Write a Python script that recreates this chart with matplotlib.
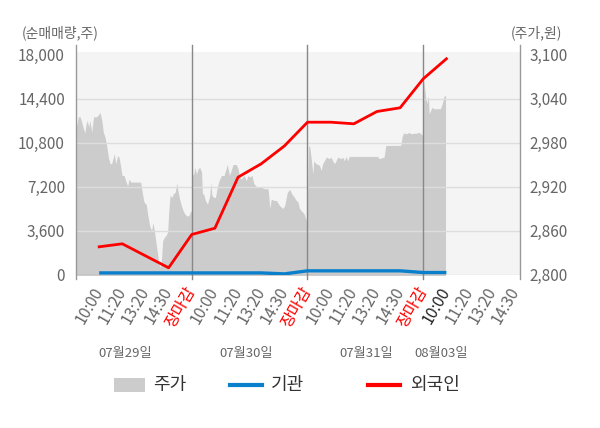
import matplotlib
matplotlib.use('Agg')
import matplotlib.pyplot as plt
from matplotlib.lines import Line2D
from matplotlib.patches import Rectangle

plt.rcParams['font.family'] = ['Noto Sans CJK KR', 'DejaVu Sans']

# minutes counted from 09:00 of the first day, 390 minutes per session
price_min = [0, 8, 14, 19, 25, 30, 34, 38, 43, 47, 53, 59, 70, 78, 81, 87, 92, 98,
             104, 109, 115, 120, 126, 129, 134, 140, 145, 151, 155, 162, 169, 174,
             179, 185, 195, 218, 224, 229, 237, 241, 249, 255, 259, 264, 270, 275,
             279, 283, 287, 292, 298, 303, 309, 312, 317, 323, 328, 334, 340, 343,
             349, 355, 361, 366, 373, 380, 385, 389,
             391, 397, 400, 406, 411, 417, 423, 426, 430, 436, 443, 451, 454, 458,
             464, 470, 476, 482, 490, 499, 504, 510, 517, 523, 529, 540, 546, 551,
             557, 566, 574, 579, 585, 593, 599, 608, 624, 635, 647, 650, 653, 658,
             667, 675, 686, 697, 703, 712, 720, 727, 736, 742, 748, 753, 759, 768,
             776, 779,
             783, 787, 792, 798, 801, 809, 820, 826, 831, 837, 843, 854, 859, 865,
             871, 876, 882, 893, 899, 904, 910, 915, 921, 926, 971, 1016, 1021, 1038,
             1044, 1094, 1100, 1105, 1116, 1122, 1128, 1150, 1156, 1161, 1167,
             1172, 1178, 1183, 1187, 1190, 1195, 1200, 1206, 1228, 1234, 1239, 1245]
price = [2999, 3015, 3015, 3008, 2999, 2993, 3005, 3010, 3001, 3010, 2994, 3015,
         3015, 3019, 3021, 3010, 2994, 2987, 2974, 2960, 2951, 2951, 2960, 2965,
         2951, 2962, 2960, 2946, 2935, 2935, 2926, 2921, 2930, 2926, 2926, 2926,
         2910, 2899, 2895, 2883, 2865, 2860, 2871, 2860, 2842, 2828, 2815, 2810,
         2815, 2846, 2851, 2853, 2858, 2883, 2908, 2905, 2910, 2912, 2925, 2915,
         2903, 2894, 2887, 2883, 2880, 2880, 2885, 2887,
         2935, 2937, 2946, 2937, 2944, 2946, 2940, 2910, 2910, 2901, 2896, 2908,
         2926, 2908, 2905, 2905, 2919, 2928, 2935, 2935, 2942, 2950, 2935, 2942,
         2950, 2950, 2944, 2933, 2930, 2935, 2928, 2935, 2933, 2935, 2924, 2920,
         2919, 2917, 2917, 2905, 2890, 2903, 2901, 2901, 2894, 2890, 2894, 2912,
         2916, 2910, 2905, 2901, 2899, 2890, 2887, 2883, 2874, 2872,
         2974, 2976, 2960, 2937, 2955, 2951, 2949, 2942, 2951, 2955, 2960, 2958,
         2960, 2955, 2951, 2955, 2960, 2958, 2960, 2955, 2961, 2955, 2961, 2961,
         2961, 2961, 2958, 2960, 2976, 2976, 2990, 2993, 2992, 2994, 2992, 2993,
         2994, 2992, 2990,
         3065, 3042, 3033, 3044, 3019, 3024, 3028, 3026, 3026, 3033, 3042, 3045]

flow_min = [78, 156, 312, 390, 468, 546, 624, 702, 780, 858, 936, 1014, 1092, 1170, 1248]
foreign = [2266, 2512, 548, 3273, 3788, 7961, 9057, 10514, 12461, 12461, 12330,
           13336, 13639, 16012, 17648]
inst = [130, 130, 130, 130, 130, 130, 130, 50, 300, 300, 300, 300, 300, 160, 160]

tick_min = [78 * k for k in range(1, 20)]
tick_labels = ['10:00', '11:20', '13:20', '14:30', '장마감'] * 3 + ['10:00', '11:20', '13:20', '14:30']
day_breaks = [390, 780, 1170]
day_names = ['07월29일', '07월30일', '07월31일', '08월03일']
day_label_min = [167, 572, 977, 1230]

left_ticks = [0, 3600, 7200, 10800, 14400, 18000]
right_ticks = [2800, 2860, 2920, 2980, 3040, 3100]

fig = plt.figure(figsize=(6, 4.28), dpi=100)
H = 428.0
ax_p = fig.add_axes([76 / 600, 1 - 274.5 / H, 444 / 600, 229.5 / H])
ax_n = ax_p.twinx()

ymax_n = 229.5 / 44 * 3600
ax_n.set_ylim(0, ymax_n)
ax_p.set_ylim(2800, 2800 + ymax_n / 60)
ax_p.set_xlim(0, 1496)

# price area (right scale)
ax_p.axhspan(2800, 3103, color='#f4f4f4', zorder=0, lw=0)
ax_p.fill_between(price_min, price, 2790, color='#cccccc', lw=0, zorder=1)

# grid and separators on top
for v in left_ticks[1:-1]:
    ax_n.axhline(v, color='#dddddd', lw=1, zorder=1)
ax_n.axhline(0, color='#aaaaaa', lw=1, zorder=1)
for b in day_breaks:
    ax_n.plot([b, b], [-0.018, 1], color='#888888', lw=1,
              transform=ax_n.get_xaxis_transform(), clip_on=False, zorder=2)
for xb in [0, 1]:
    ax_n.plot([xb, xb], [-0.018, 1], color='#999999', lw=1,
              transform=ax_n.transAxes, clip_on=False, zorder=2)

ax_n.plot(flow_min, inst, color='#0a7fcc', lw=2.4, zorder=3, solid_capstyle='butt')
ax_n.plot(flow_min, foreign, color='#ff0000', lw=2.0, zorder=4)

for a in (ax_p, ax_n):
    for s in a.spines.values():
        s.set_visible(False)

ax_n.yaxis.set_ticks_position('left')
ax_n.set_yticks(left_ticks)
ax_n.set_yticklabels([f'{v:,}' for v in left_ticks])
ax_n.tick_params(axis='y', length=0, pad=8, labelsize=11, labelcolor='#666666')

ax_p.yaxis.set_ticks_position('right')
ax_p.set_yticks(right_ticks)
ax_p.set_yticklabels([f'{v:,}' for v in right_ticks])
ax_p.tick_params(axis='y', length=0, pad=7, labelsize=11, labelcolor='#666666')

ax_p.set_xticks(tick_min)
ax_p.set_xticklabels(tick_labels)
ax_p.tick_params(axis='x', length=0, pad=10, labelsize=11.5)
for i, lab in enumerate(ax_p.get_xticklabels()):
    lab.set_rotation(60)
    lab.set_rotation_mode('anchor')
    lab.set_ha('right')
    lab.set_va('center')
    if lab.get_text() == '장마감':
        lab.set_color('#ff0000')
    elif i == 15:
        lab.set_color('#222222')
    else:
        lab.set_color('#666666')

for m, name in zip(day_label_min, day_names):
    ax_p.text(m, -0.345, name, transform=ax_p.get_xaxis_transform(),
              ha='center', va='center', fontsize=9.5, color='#666666')

fig.text(22 / 600, 1 - 33 / H, '(순매매량,주)', ha='left', va='center', fontsize=10, color='#666666')
fig.text(562 / 600, 1 - 33 / H, '(주가,원)', ha='right', va='center', fontsize=10, color='#666666')

# legend
ly = 1 - 385 / H
fig.add_artist(Rectangle((114 / 600, 1 - 391.5 / H), 31 / 600, 13.5 / H,
                         transform=fig.transFigure, color='#cccccc', lw=0))
fig.text(153 / 600, ly, '주가', ha='left', va='center', fontsize=13, color='#333333')
fig.add_artist(Line2D([230 / 600, 262 / 600], [ly, ly], transform=fig.transFigure,
                      color='#0a7fcc', lw=3))
fig.text(271 / 600, ly, '기관', ha='left', va='center', fontsize=13, color='#333333')
fig.add_artist(Line2D([368 / 600, 400 / 600], [ly, ly], transform=fig.transFigure,
                      color='#ff0000', lw=3))
fig.text(410 / 600, ly, '외국인', ha='left', va='center', fontsize=13, color='#333333')

fig.savefig('out.png', dpi=100)
